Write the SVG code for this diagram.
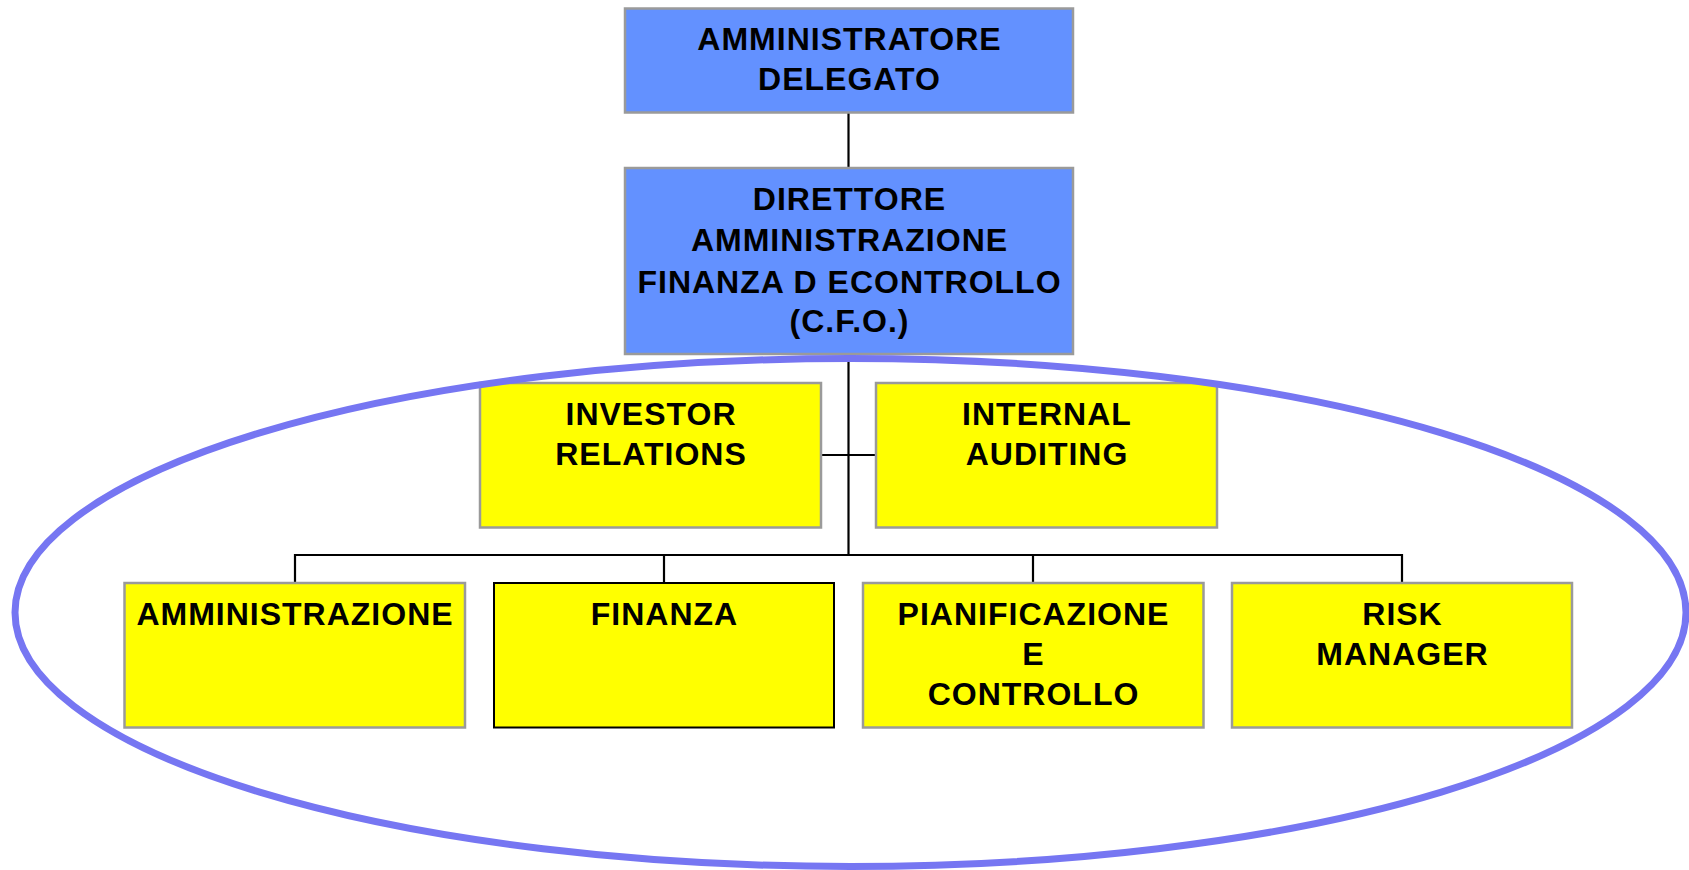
<svg xmlns="http://www.w3.org/2000/svg" width="1689" height="870" viewBox="0 0 1689 870">
<style>
.blue{fill:#6391FF;stroke:#9a9a9a;stroke-width:2.5}
.yel{fill:#FFFF00;stroke:#9a9a9a;stroke-width:2.5}
.yelb{fill:#FFFF00;stroke:#000;stroke-width:2}
.t{font-family:"Liberation Sans",Arial,sans-serif;font-weight:bold;font-size:32px;letter-spacing:1px;fill:#000;text-anchor:middle}
.c{stroke:#000;stroke-width:2.2;fill:none}
</style>
<rect width="1689" height="870" fill="#fff"/>
<g id="connectors">
<line class="c" x1="848.5" y1="112" x2="848.5" y2="168"/>
<line class="c" x1="848.5" y1="354" x2="848.5" y2="555"/>
<line class="c" x1="821" y1="455" x2="876" y2="455"/>
<polyline class="c" points="295,583 295,555 1402,555 1402,583"/>
<line class="c" x1="664" y1="555" x2="664" y2="583"/>
<line class="c" x1="1033" y1="555" x2="1033" y2="583"/>
</g>
<g id="n-ad">
<rect class="blue" x="625" y="8.5" width="448" height="104"/>
<text class="t" x="849.5" y="50">AMMINISTRATORE</text>
<text class="t" x="849.5" y="90">DELEGATO</text>
</g>
<g id="n-cfo">
<rect class="blue" x="625" y="168" width="448" height="186"/>
<text class="t" x="849.5" y="209.5">DIRETTORE</text>
<text class="t" x="849.5" y="251">AMMINISTRAZIONE</text>
<text class="t" x="849.5" y="292.5">FINANZA D ECONTROLLO</text>
<text class="t" x="849.5" y="332">(C.F.O.)</text>
</g>
<g id="n-ir">
<rect class="yel" x="480" y="383" width="341" height="144.5"/>
<text class="t" x="651" y="425">INVESTOR</text>
<text class="t" x="651" y="465">RELATIONS</text>
</g>
<g id="n-ia">
<rect class="yel" x="876" y="383" width="341" height="144.5"/>
<text class="t" x="1047" y="425">INTERNAL</text>
<text class="t" x="1047" y="465">AUDITING</text>
</g>
<g id="n-amm">
<rect class="yel" x="124.5" y="583" width="340.5" height="144.5"/>
<text class="t" x="295" y="625">AMMINISTRAZIONE</text>
</g>
<g id="n-fin">
<rect class="yelb" x="494" y="583" width="340" height="144.5"/>
<text class="t" x="664.5" y="625">FINANZA</text>
</g>
<g id="n-pc">
<rect class="yel" x="863" y="583" width="340.5" height="144.5"/>
<text class="t" x="1033.5" y="625">PIANIFICAZIONE</text>
<text class="t" x="1033.5" y="665">E</text>
<text class="t" x="1033.5" y="705">CONTROLLO</text>
</g>
<g id="n-rm">
<rect class="yel" x="1232" y="583" width="340" height="144.5"/>
<text class="t" x="1402.5" y="625">RISK</text>
<text class="t" x="1402.5" y="665">MANAGER</text>
</g>
<ellipse id="ellipse" cx="850.5" cy="612.5" rx="835.5" ry="254" fill="none" stroke="#7676F2" stroke-width="7"/>
</svg>
